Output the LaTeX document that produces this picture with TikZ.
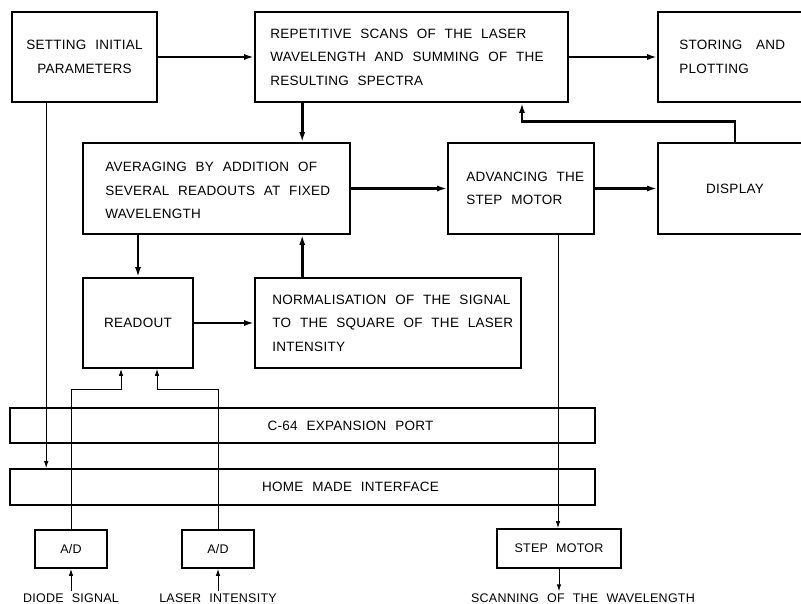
\documentclass[tikz,border=0pt]{standalone}
\usepackage{fontspec}
\setmainfont{Liberation Sans}[LetterSpace=2, WordSpace=2.2]
\usetikzlibrary{arrows.meta}

\begin{document}
\begin{tikzpicture}[x=1pt, y=-1pt,
  every node/.style={font=\fontsize{13.5}{23.5}\selectfont},
  blk/.style={draw, line width=1.6pt, inner sep=0pt, minimum height=90},
  lt/.style={anchor=west, align=left, inner sep=0pt},
  bar/.style={draw, line width=1.6pt, inner sep=0pt, minimum width=585, minimum height=35},
  sml/.style={font=\fontsize{12.5}{15}\selectfont},
  fat/.style={line width=2.8pt, -{Latex[length=10pt, width=6pt]}},
  fine/.style={line width=1pt, -{Latex[length=7pt, width=4.5pt]}}]
\useasboundingbox (0,0) rectangle (801,604);

% top row
\node[blk, minimum width=145, align=center] (set) at (84.5,57) {SETTING INITIAL\\PARAMETERS};
\node[blk, minimum width=313, label={[lt, xshift=16]west:REPETITIVE SCANS OF THE LASER\\WAVELENGTH AND SUMMING OF THE\\RESULTING SPECTRA}] (scan) at (411.5,57) {};
\node[blk, minimum width=154, label={[lt, xshift=22]west:STORING\hspace{5pt} AND\\PLOTTING}] (store) at (735,57) {};

% middle row
\node[blk, minimum width=267, minimum height=91, label={[lt, xshift=23, yshift=-2]west:AVERAGING BY ADDITION OF\\SEVERAL READOUTS AT FIXED\\WAVELENGTH}] (avg) at (216.5,188.5) {};
\node[blk, minimum width=146, minimum height=91, label={[lt, xshift=19]west:ADVANCING THE\\STEP MOTOR}] (adv) at (521,188.5) {};
\node[blk, minimum width=154, minimum height=91] (disp) at (735,188.5) {DISPLAY};

% readout row
\node[blk, minimum width=110] (read) at (138,323) {READOUT};
\node[blk, minimum width=266, label={[lt, xshift=18]west:NORMALISATION OF THE SIGNAL\\TO THE SQUARE OF THE LASER\\INTENSITY}] (norm) at (388,323) {};

% hardware
\node[bar, label={[xshift=48]center:C-64 EXPANSION PORT}] (port) at (302.5,425.5) {};
\node[bar, minimum height=36, label={[xshift=48]center:HOME MADE INTERFACE}] (iface) at (302.5,487) {};
\node[draw, line width=1.6pt, sml, minimum width=72, minimum height=38] (ad1) at (71,549) {A/D};
\node[draw, line width=1.6pt, sml, minimum width=72, minimum height=38] (ad2) at (218,549) {A/D};
\node[draw, line width=1.6pt, sml, minimum width=124, minimum height=39] (motor) at (559,548.5) {STEP MOTOR};
\node[sml, inner sep=2pt] (diode) at (71,598) {DIODE SIGNAL};
\node[sml, inner sep=2pt] (laser) at (218,598) {LASER INTENSITY};
\node[sml, inner sep=2pt] (scanwl) at (583,598) {SCANNING OF THE WAVELENGTH};

% thick flow
\draw[fat] (set) -- (scan);
\draw[fat] (scan) -- (store);
\draw[fat] ([xshift=48]scan.south west) -- ([xshift=48]scan.south west |- avg.north);
\draw[fat] (avg) -- (adv);
\draw[fat] (adv) -- (disp);
\draw[fat] (disp.north) -- ++(0,-21) -| ([xshift=110.5]scan.south);
\draw[fat] (avg.south -| read.north) -- (read.north);
\draw[fat] ([xshift=48]norm.north west) -- ([xshift=48]norm.north west |- avg.south);
\draw[fat] (read) -- (norm);

% thin lines
\draw[fine] ([xshift=35]set.south west) -- ([xshift=35]set.south west |- iface.north);
\draw[fine] (ad1.north) -- ++(0,-140) -| ([xshift=-17]read.south);
\draw[fine] (ad2.north) -- ++(0,-140) -| ([xshift=19]read.south);
\draw[fine] ([xshift=37]adv.south) -- ([xshift=37]adv.south |- motor.north);
\draw[fine] (diode.north) -- (ad1.south);
\draw[fine] (laser.north) -- (ad2.south);
\draw[fine] (motor.south) -- (motor.south |- scanwl.north);
\end{tikzpicture}
\end{document}
